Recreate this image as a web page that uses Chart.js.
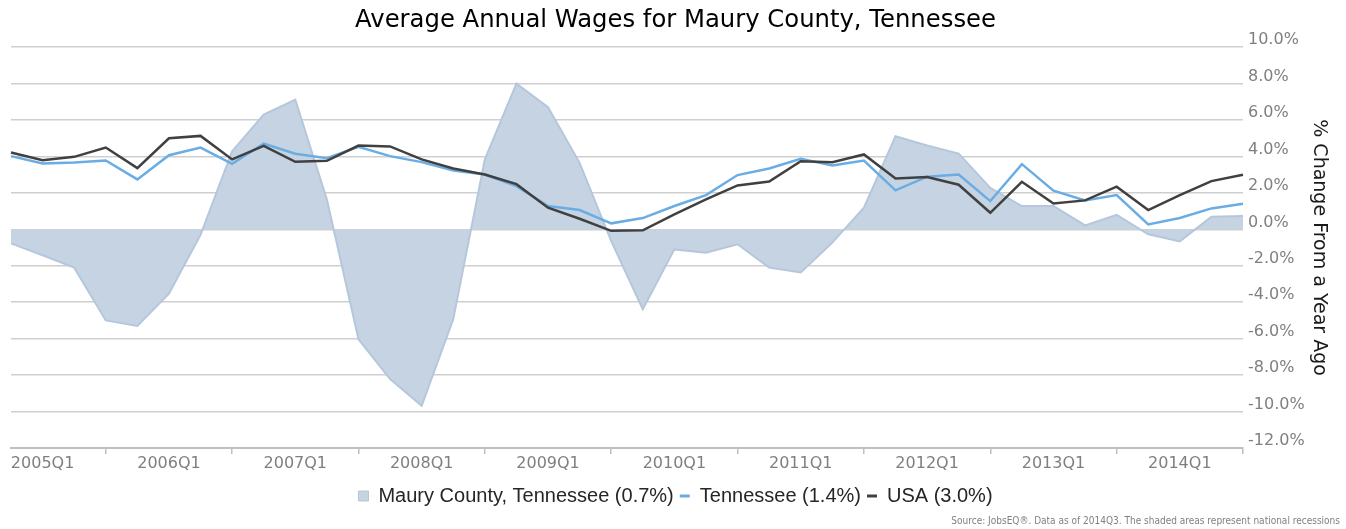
<!DOCTYPE html>
<html><head><meta charset="utf-8">
<script src="https://cdn.jsdelivr.net/npm/chart.js@4.4.1/dist/chart.umd.min.js"></script>
<style>html,body{margin:0;padding:0;background:#fff;}</style>
</head><body>
<canvas id="c" width="1346" height="529"></canvas>
<script>
const quarters = ['2004Q4',
  '2005Q1','2005Q2','2005Q3','2005Q4','2006Q1','2006Q2','2006Q3','2006Q4',
  '2007Q1','2007Q2','2007Q3','2007Q4','2008Q1','2008Q2','2008Q3','2008Q4',
  '2009Q1','2009Q2','2009Q3','2009Q4','2010Q1','2010Q2','2010Q3','2010Q4',
  '2011Q1','2011Q2','2011Q3','2011Q4','2012Q1','2012Q2','2012Q3','2012Q4',
  '2013Q1','2013Q2','2013Q3','2013Q4','2014Q1','2014Q2','2014Q3'];
const shownTickLabels = ['2005Q1','2006Q1','2007Q1','2008Q1','2009Q1','2010Q1','2011Q1','2012Q1','2013Q1','2014Q1'];
const tickMarkQuarters = ['2005Q3','2006Q3','2007Q3','2008Q3','2009Q3','2010Q3','2011Q3','2012Q3','2013Q3','2014Q3'];

const maury = [-0.77, -1.42, -2.10, -5.00, -5.30, -3.53, -0.30, 4.29, 6.30, 7.12, 1.64,
  -6.03, -8.22, -9.68, -4.93, 3.84, 8.00, 6.70, 3.65, -0.64, -4.38,
  -1.10, -1.28, -0.82, -2.10, -2.37, -0.73, 1.19, 5.11, 4.60, 4.16, 2.28,
  1.28, 1.28, 0.22, 0.80, -0.27, -0.66, 0.69, 0.74];
const tennessee = [4.02, 3.62, 3.67, 3.78, 2.74, 4.07, 4.49, 3.60, 4.71, 4.15, 3.91,
  4.53, 4.02, 3.69, 3.23, 3.01, 2.37, 1.28, 1.06, 0.33, 0.62,
  1.28, 1.88, 2.98, 3.34, 3.87, 3.51, 3.78, 2.14, 2.89, 3.01, 1.55,
  3.58, 2.12, 1.59, 1.88, 0.27, 0.62, 1.15, 1.41];
const usa = [4.22, 3.80, 3.98, 4.49, 3.36, 5.00, 5.13, 3.84, 4.58, 3.71, 3.76,
  4.60, 4.55, 3.84, 3.34, 3.01, 2.48, 1.19, 0.58, -0.08, -0.05,
  0.82, 1.64, 2.41, 2.63, 3.74, 3.69, 4.11, 2.79, 2.87, 2.45, 0.91,
  2.61, 1.42, 1.59, 2.34, 1.06, 1.88, 2.65, 3.00];
const seriesNames = ['Maury County, Tennessee (0.7%)', 'Tennessee (1.4%)', 'USA (3.0%)'];
const yMin = -12, yMax = 10, yStep = 2;

const areaFill = '#c6d3e2', areaLine = '#b5c7dc', tnColor = '#6aade4', usaColor = '#404040';

new Chart(document.getElementById('c'), {
  type: 'line',
  data: {
    labels: quarters,
    datasets: [
      { label: seriesNames[0], data: maury, fill: 'origin', backgroundColor: areaFill,
        borderColor: areaLine, borderWidth: 2, pointRadius: 0, tension: 0, order: 3 },
      { label: seriesNames[1], data: tennessee, fill: false, borderColor: tnColor,
        backgroundColor: tnColor, borderWidth: 2.5, pointRadius: 0, tension: 0, order: 2 },
      { label: seriesNames[2], data: usa, fill: false, borderColor: usaColor,
        backgroundColor: usaColor, borderWidth: 2.5, pointRadius: 0, tension: 0, order: 1 }
    ]
  },
  options: {
    responsive: false, animation: false,
    layout: { padding: { left: 11, right: 6, top: 0, bottom: 0 } },
    plugins: {
      tooltip: { enabled: false },
      title: { display: true, text: 'Average Annual Wages for Maury County, Tennessee',
        font: { family: 'DejaVu Sans', size: 24.3, weight: 'normal' }, color: '#000',
        padding: { top: 6, bottom: 12 } },
      subtitle: { display: true, position: 'bottom', align: 'end',
        text: 'Source: JobsEQ®. Data as of 2014Q3. The shaded areas represent national recessions',
        font: { family: "'DejaVu Sans Condensed', 'DejaVu Sans'", size: 10 }, color: '#808080',
        padding: { top: 4, bottom: 2 } },
      legend: { display: true, position: 'bottom', maxHeight: 31,
        labels: { usePointStyle: true, boxWidth: 10, boxHeight: 10, pointStyleWidth: 10,
          font: { family: 'Liberation Sans', size: 20 }, color: '#262626', padding: 6,
          generateLabels: (chart) => chart.data.datasets.map((ds, i) => ({
            text: ds.label, datasetIndex: i,
            fillStyle: i === 0 ? areaFill : ds.borderColor,
            strokeStyle: i === 0 ? areaLine : ds.borderColor,
            lineWidth: i === 0 ? 1 : 3,
            pointStyle: i === 0 ? 'rect' : 'line',
            fontColor: '#262626', hidden: false
          }))
        }
      }
    },
    scales: {
      x: {
        type: 'category', offset: false,
        afterFit: (s) => { s.height = 32; },
        grid: { drawOnChartArea: false, drawTicks: true, tickLength: 6,
          color: (c) => tickMarkQuarters.includes(quarters[c.index]) ? '#bfbfbf' : 'rgba(0,0,0,0)',
          lineWidth: 1.5 },
        border: { display: true, color: '#c0c0c0', width: 2 },
        ticks: { autoSkip: false, maxRotation: 0, minRotation: 0, padding: 0,
          font: { family: 'DejaVu Sans', size: 16 }, color: '#7f7f7f',
          callback: (v, i) => shownTickLabels.includes(quarters[i]) ? quarters[i] : '' }
      },
      y: {
        position: 'right', min: yMin, max: yMax,
        afterFit: (s) => { s.width = 97; },
        grid: { color: '#cfcfcf', lineWidth: 1.5, drawTicks: false },
        border: { display: false },
        ticks: { stepSize: yStep, padding: 5, labelOffset: -7,
          font: { family: 'DejaVu Sans', size: 16 }, color: '#7f7f7f',
          callback: (v) => v.toFixed(1) + '%' },
        title: { display: true, text: '% Change From a Year Ago',
          font: { family: 'DejaVu Sans', size: 19 }, color: '#1a1a1a',
          padding: 10 }
      }
    }
  }
});
</script>
</body></html>
